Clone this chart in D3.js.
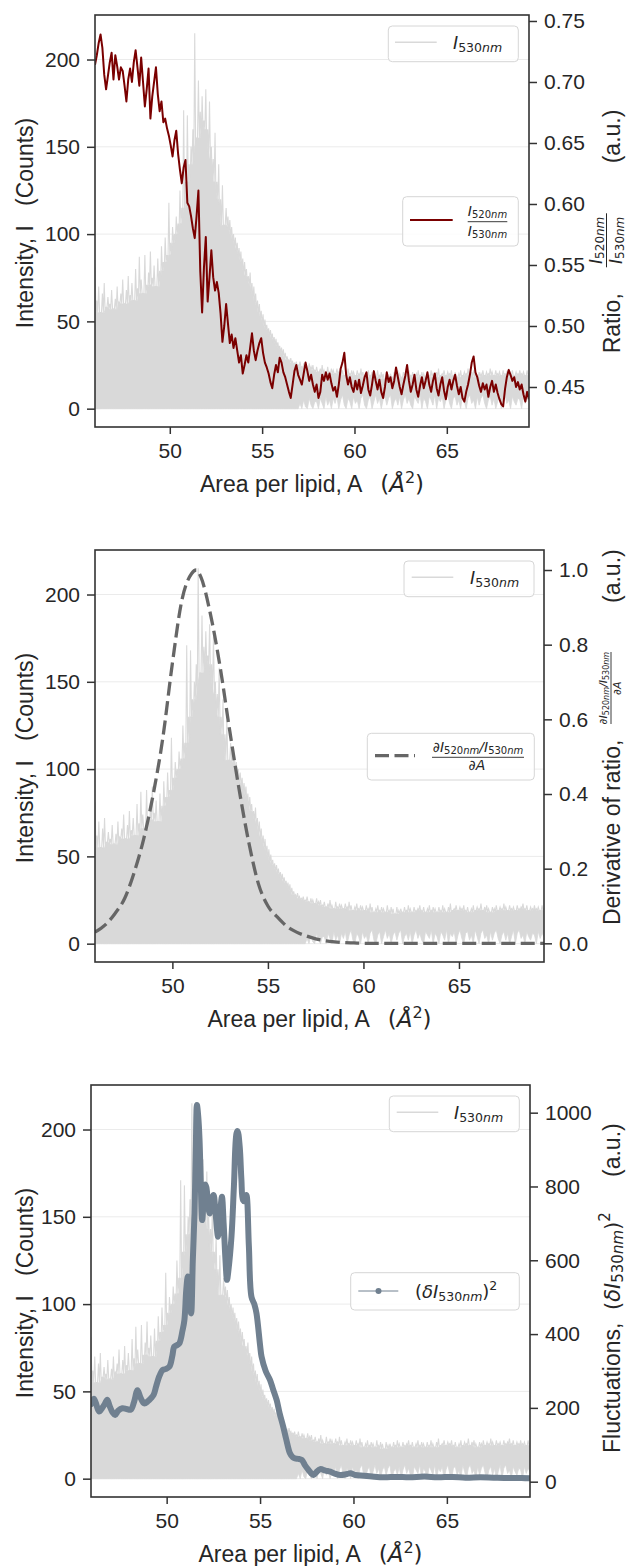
<!DOCTYPE html>
<html><head><meta charset="utf-8">
<script src="https://cdn.jsdelivr.net/npm/d3@7"></script>
<style>body{margin:0;background:#fff}svg{display:block}</style>
</head><body>
<script>
// ---------- DATA ----------
const areaStart = 45.95, areaStep = 0.1;   // area per lipid grid (Å^2)
// I530nm upper excursions (counts), one per grid step
const intensityPeak = [
81,62,70,55,66,72,58,64,60,68,
57,63,70,61,66,74,60,68,76,65,
72,62,80,69,87,74,66,88,71,78,
90,75,82,70,86,79,93,84,98,88,
118,95,104,100,110,106,125,115,171,130,
168,140,150,160,215,155,188,170,179,165,
183,160,176,150,143,158,130,140,120,128,
105,115,110,108,104,100,98,95,92,90,
86,84,80,76,78,72,70,66,62,60,
56,54,51,48,46,45,43,41,40,38,
36,35,34,32,30,28,29,27,26,27,
25,27,24,26,25,23,26,24,25,22,
24,21,23,25,22,20,24,21,23,22,
20,23,21,24,22,19,21,23,20,22,
21,19,22,20,23,21,18,20,22,19,
21,20,18,22,19,21,20,17,21,19,
20,18,21,19,22,20,18,21,19,20,
22,19,21,18,20,22,19,21,20,18,
21,19,22,20,18,21,23,19,20,22,
19,21,20,22,19,21,18,20,22,19,
21,20,23,19,21,22,20,18,21,20,
22,19,21,20,23,21,19,22,20,21,
19,22,20,21,23,20,22,19,21,20,
22,20,21,19,22,20];
// I530nm lower excursions (counts)
const intensityFloor = [
0,0,0,0,0,0,0,0,0,0,
0,0,0,0,0,0,0,0,0,0,
0,0,0,0,0,0,0,0,0,0,
0,0,0,0,0,0,0,0,0,0,
0,0,0,0,0,0,0,0,0,0,
0,0,0,0,0,0,0,0,0,0,
0,0,0,0,0,0,0,0,0,0,
0,0,0,0,0,0,0,0,0,0,
0,0,0,0,0,0,0,0,0,0,
0,0,0,0,0,0,0,0,0,0,
0,0,0,0,0,0,0,0,0,0,
0,3,0,5,1,0,6,2,0,4,
4,0,6,3,0,7,2,5,0,6,
3,7,0,5,8,2,0,6,4,0,
7,3,5,0,6,8,2,0,5,7,
0,4,8,3,6,0,5,7,2,6,
8,0,4,6,2,7,0,5,8,3,
6,2,0,7,5,3,8,0,6,4,
0,7,5,2,8,0,6,4,7,0,
5,8,3,0,6,7,2,5,0,8,
4,0,6,8,3,5,0,7,2,6,
8,3,0,5,7,2,6,0,4,8,
0,6,8,3,5,0,7,4,2,6,
5,0,7,3,6,4];
// ratio I520nm / I530nm
const ratio = [
0.714,0.722,0.732,0.739,0.728,0.706,0.694,0.705,0.716,0.724,
0.702,0.722,0.713,0.702,0.712,0.709,0.697,0.684,0.702,0.711,
0.700,0.716,0.726,0.712,0.697,0.720,0.700,0.680,0.694,0.711,
0.670,0.688,0.700,0.712,0.690,0.676,0.684,0.667,0.670,0.662,
0.656,0.648,0.639,0.652,0.660,0.641,0.628,0.617,0.630,0.636,
0.601,0.598,0.590,0.580,0.572,0.590,0.611,0.545,0.511,0.548,
0.573,0.520,0.540,0.562,0.540,0.529,0.536,0.527,0.510,0.487,
0.500,0.518,0.502,0.486,0.493,0.482,0.490,0.480,0.470,0.476,
0.461,0.468,0.476,0.470,0.482,0.494,0.480,0.472,0.480,0.486,
0.490,0.478,0.470,0.466,0.461,0.454,0.449,0.460,0.468,0.462,
0.474,0.470,0.462,0.458,0.452,0.446,0.441,0.452,0.463,0.468,
0.460,0.456,0.452,0.461,0.470,0.463,0.455,0.460,0.452,0.446,
0.452,0.441,0.446,0.460,0.455,0.462,0.456,0.461,0.453,0.447,
0.450,0.442,0.452,0.465,0.470,0.478,0.460,0.452,0.458,0.450,
0.446,0.455,0.448,0.456,0.445,0.451,0.458,0.462,0.448,0.443,
0.452,0.463,0.455,0.448,0.456,0.446,0.441,0.450,0.462,0.454,
0.458,0.449,0.455,0.466,0.458,0.450,0.444,0.452,0.459,0.468,
0.455,0.446,0.452,0.460,0.448,0.442,0.451,0.458,0.449,0.455,
0.462,0.452,0.446,0.455,0.461,0.449,0.443,0.452,0.458,0.447,
0.440,0.450,0.456,0.448,0.455,0.460,0.451,0.444,0.450,0.441,
0.438,0.446,0.452,0.460,0.470,0.475,0.462,0.458,0.451,0.446,
0.453,0.448,0.452,0.442,0.450,0.455,0.446,0.452,0.445,0.440,
0.436,0.434,0.448,0.458,0.464,0.460,0.455,0.458,0.450,0.454,
0.448,0.452,0.444,0.438,0.446,0.440];
// derivative of ratio (normalised)
const derivArea  = [45.95,46.5,47.0,47.5,48.0,48.5,49.0,49.5,50.0,50.5,51.0,51.25,51.5,52.0,52.5,53.0,53.5,54.0,54.5,55.0,55.5,56.0,56.5,57.0,57.5,58.0,58.5,59.0,59.5,60.0,62.0,65.0,69.45];
const derivValue = [0.03,0.05,0.08,0.12,0.19,0.28,0.40,0.55,0.75,0.92,0.99,1.0,0.98,0.88,0.74,0.57,0.41,0.27,0.16,0.10,0.07,0.045,0.03,0.02,0.012,0.007,0.004,0.002,0.001,0,0,0,0];
// fluctuations (δI530nm)^2
const flucArea = [45.95,46.1,46.2,46.38,46.55,46.7,46.82,46.95,47.1,47.24,47.4,47.63,47.85,48.08,48.25,48.44,48.6,48.8,49.0,49.16,49.3,49.43,49.6,49.79,49.95,50.15,50.3,50.41,50.55,50.68,50.85,50.95,51.05,51.13,51.2,51.31,51.4,51.49,51.56,51.62,51.69,51.76,51.83,51.9,51.98,52.05,52.12,52.2,52.3,52.4,52.51,52.6,52.7,52.75,52.85,52.96,53.05,53.15,53.23,53.3,53.47,53.6,53.74,53.8,53.91,54.0,54.09,54.18,54.27,54.4,54.54,54.7,54.81,55.0,55.08,55.3,55.53,55.7,55.89,56.05,56.24,56.4,56.6,56.75,56.87,57.05,57.23,57.4,57.59,57.75,57.86,58.0,58.22,58.5,58.76,59.0,59.3,59.6,59.84,60.1,60.56,61.0,61.63,62.3,63.0,63.8,64.5,65.3,66.0,66.8,67.5,68.3,69.0,69.45];
const flucValue = [210,225,215,190,200,212,222,205,188,181,192,199,197,195,215,248,228,212,218,226,235,257,285,303,305,312,340,366,370,375,410,438,520,556,520,456,600,727,900,1021,990,926,800,709,760,805,799,760,727,760,777,740,680,664,720,772,700,600,547,570,664,800,944,950,908,820,763,760,777,640,501,480,456,370,339,300,276,250,221,185,149,115,77,66,63,62,59,45,32,22,18,25,34,30,27,22,18,20,23,18,16,14,12,13,12,14,12,13,11,12,11,10,10,9];

const xTicks = [50,55,60,65];
const intensityTicks = [0,50,100,150,200];
const ratioTicks = [0.45,0.50,0.55,0.60,0.65,0.70,0.75];
const derivTicks = [0.0,0.2,0.4,0.6,0.8,1.0];
const flucTicks = [0,200,400,600,800,1000];

// ---------- DRAWING ----------
const SANS = "'Liberation Sans', Arial, sans-serif";
const MATH = "'DejaVu Sans', sans-serif";
const INK = "#262626", SPINE = "#333333", GRID = "#ebebeb", GRAYLINE = "#d9d9d9";

const svg = d3.select("body").append("svg").attr("width",635).attr("height",1566);
svg.append("rect").attr("width",635).attr("height",1566).attr("fill","#fff");

// dense trace: solid body up to the local minimum of the excursions, thin spikes above
const intensityPts = intensityPeak.map((v,i)=>({
  a: areaStart + i*areaStep, hi: v, lo: intensityFloor[i],
  core: d3.min(intensityPeak.slice(Math.max(0,i-2), i+3))
}));
const spikePts = [];
intensityPts.forEach((d,i)=>{
  spikePts.push([d.a, d.hi]);
  const nxt = intensityPts[i+1];
  spikePts.push([d.a + areaStep/2, nxt ? Math.min(d.core, nxt.core) : d.core]);
});
const ratioPts = ratio.map((v,i)=>[areaStart + i*areaStep, v]);
const derivPts = derivArea.map((a,i)=>[a, derivValue[i]]);
const flucPts = flucArea.map((a,i)=>[a, flucValue[i]]);

const panels = [
  {box:{l:95,r:529,t:15,b:427}, rDomain:[0.4172,0.7549], rTicks:ratioTicks, rFmt:d3.format(".2f")},
  {box:{l:95,r:544,t:550,b:962}, rDomain:[-0.050,1.0536], rTicks:derivTicks, rFmt:d3.format(".1f")},
  {box:{l:91,r:530,t:1085,b:1497}, rDomain:[-41.5,1075], rTicks:flucTicks, rFmt:d3.format("d")}
];

function styleAxis(g){
  g.select(".domain").remove();
  g.selectAll(".tick line").attr("stroke",SPINE).attr("stroke-width",1.5);
  g.selectAll(".tick text").attr("fill",INK).style("font-family",SANS).style("font-size","21px");
}

panels.forEach((p,pi)=>{
  const B = p.box;
  const x = d3.scaleLinear().domain([45.95,69.45]).range([B.l,B.r]);
  const yL = d3.scaleLinear().domain([-10.5,225.5]).range([B.b,B.t]);
  const yR = d3.scaleLinear().domain(p.rDomain).range([B.b,B.t]);
  const g = svg.append("g");
  const cid = "clip"+pi;
  svg.append("defs").append("clipPath").attr("id",cid).append("rect")
    .attr("x",B.l).attr("y",B.t).attr("width",B.r-B.l).attr("height",B.b-B.t);

  // grid
  g.selectAll(".grid").data(intensityTicks).enter().append("line")
    .attr("x1",B.l).attr("x2",B.r).attr("y1",d=>yL(d)).attr("y2",d=>yL(d))
    .attr("stroke",GRID).attr("stroke-width",1);

  // intensity trace
  g.append("path").datum(intensityPts).attr("clip-path",`url(#${cid})`)
    .attr("d", d3.area().x(d=>x(d.a)).y0(d=>yL(d.lo)).y1(d=>yL(d.core)))
    .attr("fill",GRAYLINE).attr("stroke",GRAYLINE).attr("stroke-width",0.8);
  g.append("path").datum(spikePts).attr("clip-path",`url(#${cid})`)
    .attr("d", d3.line().x(d=>x(d[0])).y(d=>yL(d[1])))
    .attr("fill","none").attr("stroke",GRAYLINE).attr("stroke-width",1.1);

  // secondary series
  if(pi===0){
    g.append("path").datum(ratioPts).attr("clip-path",`url(#${cid})`)
      .attr("d", d3.line().x(d=>x(d[0])).y(d=>yR(d[1])))
      .attr("fill","none").attr("stroke","#7a0000").attr("stroke-width",2).attr("stroke-linejoin","round");
  } else if(pi===1){
    g.append("path").datum(derivPts).attr("clip-path",`url(#${cid})`)
      .attr("d", d3.line().curve(d3.curveMonotoneX).x(d=>x(d[0])).y(d=>yR(d[1])))
      .attr("fill","none").attr("stroke","#666666").attr("stroke-width",3.3).attr("stroke-dasharray","14,5.5");
  } else {
    g.append("path").datum(flucPts).attr("clip-path",`url(#${cid})`)
      .attr("d", d3.line().curve(d3.curveCatmullRom.alpha(0.5)).x(d=>x(d[0])).y(d=>yR(d[1])))
      .attr("fill","none").attr("stroke","#708090").attr("stroke-width",6)
      .attr("stroke-linejoin","round").attr("stroke-linecap","round");
  }

  // spines
  g.append("rect").attr("x",B.l).attr("y",B.t).attr("width",B.r-B.l).attr("height",B.b-B.t)
    .attr("fill","none").attr("stroke",SPINE).attr("stroke-width",1.6);

  // axes
  g.append("g").attr("transform",`translate(0,${B.b})`)
    .call(d3.axisBottom(x).tickValues(xTicks).tickSize(7).tickPadding(9).tickSizeOuter(0)).call(styleAxis);
  g.append("g").attr("transform",`translate(${B.l},0)`)
    .call(d3.axisLeft(yL).tickValues(intensityTicks).tickSize(8).tickPadding(7).tickSizeOuter(0)).call(styleAxis);
  g.append("g").attr("transform",`translate(${B.r},0)`)
    .call(d3.axisRight(yR).tickValues(p.rTicks).tickFormat(p.rFmt).tickSize(8).tickPadding(7).tickSizeOuter(0)).call(styleAxis);

  // x label
  const cx = (B.l+B.r)/2;
  const xl = g.append("text").attr("x",cx).attr("y",B.b+65).attr("text-anchor","middle")
    .attr("fill",INK).style("font-family",SANS).style("font-size","23px").style("white-space","pre");
  xl.append("tspan").text("Area per lipid, A   ");
  xl.append("tspan").style("font-family",MATH).text("(");
  xl.append("tspan").style("font-family",MATH).style("font-style","italic").text("Å");
  xl.append("tspan").style("font-family",MATH).style("font-size","16px").attr("dy",-9).text("2");
  xl.append("tspan").style("font-family",MATH).attr("dy",9).text(")");

  // left label
  g.append("text").attr("transform",`translate(33,${(B.t+B.b)/2+2}) rotate(-90)`)
    .attr("text-anchor","middle").attr("fill",INK).style("font-family",SANS).style("font-size","23px")
    .style("white-space","pre").text("Intensity, I   (Counts)");

  // legend helpers
  function box(x0,y0,w,h){
    g.append("rect").attr("x",x0).attr("y",y0).attr("width",w).attr("height",h).attr("rx",4)
      .attr("fill","#fff").attr("fill-opacity",0.8).attr("stroke","#d6d6d6").attr("stroke-width",1);
  }
  function iSub(t, sub, size, subSize, dy){
    t.append("tspan").style("font-style","italic").style("font-size",size+"px").text("I");
    t.append("tspan").style("font-size",subSize+"px").attr("dy",dy).text(sub.slice(0,3));
    t.append("tspan").style("font-size",subSize+"px").style("font-style","italic").text("nm");
  }
  // legend: I530nm
  const L1 = [{x:388.3,y:26,lx:395,lx2:436.7,ly:42.3,tx:453,ty:49.3},
              {x:404,y:561,lx:411.7,lx2:453.3,ly:577.3,tx:470,ty:584.3},
              {x:389.3,y:1096,lx:396.7,lx2:438.3,ly:1112.3,tx:454,ty:1119.3}][pi];
  box(L1.x,L1.y,130,35.7);
  g.append("line").attr("x1",L1.lx).attr("x2",L1.lx2).attr("y1",L1.ly).attr("y2",L1.ly)
    .attr("stroke",GRAYLINE).attr("stroke-width",1.5);
  const t1 = g.append("text").attr("x",L1.tx).attr("y",L1.ty).attr("fill",INK).style("font-family",MATH);
  iSub(t1,"530nm",17.5,12.5,2.5);

  if(pi===0){
    box(402.7,196.7,115.6,49.3);
    g.append("line").attr("x1",410).attr("x2",452.7).attr("y1",220).attr("y2",220)
      .attr("stroke","#7a0000").attr("stroke-width",2);
    const n = g.append("text").attr("x",487.5).attr("y",216).attr("text-anchor","middle").attr("fill",INK).style("font-family",MATH);
    iSub(n,"520nm",14,10,2);
    g.append("line").attr("x1",467.7).attr("x2",507.3).attr("y1",221.7).attr("y2",221.7).attr("stroke",INK).attr("stroke-width",0.9);
    const d = g.append("text").attr("x",487.5).attr("y",236).attr("text-anchor","middle").attr("fill",INK).style("font-family",MATH);
    iSub(d,"530nm",14,10,2);
  } else if(pi===1){
    box(367.3,733.3,167,46.7);
    g.append("line").attr("x1",375).attr("x2",415).attr("y1",755.7).attr("y2",755.7)
      .attr("stroke","#666666").attr("stroke-width",3.3).attr("stroke-dasharray","14,5.5");
    const n = g.append("text").attr("x",478).attr("y",751.7).attr("text-anchor","middle").attr("fill",INK).style("font-family",MATH);
    n.append("tspan").style("font-size","14px").text("∂");
    iSub(n,"520nm",14,10,2);
    n.append("tspan").style("font-size","14px").style("font-style","italic").attr("dy",-2).text("/");
    iSub(n,"530nm",14,10,2);
    g.append("line").attr("x1",432).attr("x2",524).attr("y1",757.3).attr("y2",757.3).attr("stroke",INK).attr("stroke-width",0.9);
    const d = g.append("text").attr("x",477).attr("y",770).attr("text-anchor","middle").attr("fill",INK).style("font-family",MATH).style("font-size","14px");
    d.append("tspan").text("∂");
    d.append("tspan").style("font-style","italic").text("A");
  } else {
    box(350.7,1272.7,168.6,37.3);
    g.append("line").attr("x1",358.3).attr("x2",398.3).attr("y1",1291).attr("y2",1291)
      .attr("stroke","#708090").attr("stroke-width",1);
    g.append("circle").attr("cx",378.5).attr("cy",1291).attr("r",3).attr("fill","#708090");
    const t = g.append("text").attr("x",415).attr("y",1298).attr("fill",INK).style("font-family",MATH).style("font-size","18px");
    t.append("tspan").text("(");
    t.append("tspan").style("font-style","italic").text("δI");
    t.append("tspan").style("font-size","12.5px").attr("dy",2.5).text("530");
    t.append("tspan").style("font-size","12.5px").style("font-style","italic").text("nm");
    t.append("tspan").attr("dy",-2.5).text(")");
    t.append("tspan").style("font-size","12.5px").attr("dy",-8).text("2");
  }

  // right label
  if(pi===0){
    const r = g.append("g").attr("transform","translate(620,353.3) rotate(-90)");
    r.append("text").attr("fill",INK).style("font-family",SANS).style("font-size","23px").text("Ratio,");
    const n = r.append("text").attr("x",113).attr("y",-18).attr("text-anchor","middle").attr("fill",INK).style("font-family",MATH);
    iSub(n,"520nm",17,12,2);
    r.append("line").attr("x1",86).attr("x2",140).attr("y1",-13.5).attr("y2",-13.5).attr("stroke",INK).attr("stroke-width",1);
    const d = r.append("text").attr("x",113).attr("y",1.5).attr("text-anchor","middle").attr("fill",INK).style("font-family",MATH);
    iSub(d,"530nm",17,12,2);
    r.append("text").attr("x",190).attr("fill",INK).style("font-family",SANS).style("font-size","23px").text("(a.u.)");
  } else if(pi===1){
    const r = g.append("g").attr("transform","translate(620,925) rotate(-90)");
    r.append("text").attr("fill",INK).style("font-family",SANS).style("font-size","23px").text("Derivative of ratio,");
    const n = r.append("text").attr("x",237).attr("y",-13).attr("text-anchor","middle").attr("fill",INK).style("font-family",MATH);
    n.append("tspan").style("font-size","11px").text("∂");
    iSub(n,"520nm",11,8,1.5);
    n.append("tspan").style("font-size","11px").style("font-style","italic").attr("dy",-1.5).text("/");
    iSub(n,"530nm",11,8,1.5);
    r.append("line").attr("x1",201).attr("x2",273).attr("y1",-9).attr("y2",-9).attr("stroke",INK).attr("stroke-width",0.9);
    const d = r.append("text").attr("x",237).attr("y",1).attr("text-anchor","middle").attr("fill",INK).style("font-family",MATH).style("font-size","11px");
    d.append("tspan").text("∂");
    d.append("tspan").style("font-style","italic").text("A");
    r.append("text").attr("x",322).attr("fill",INK).style("font-family",SANS).style("font-size","23px").text("(a.u.)");
  } else {
    const r = g.append("g").attr("transform","translate(620,1453) rotate(-90)");
    r.append("text").attr("fill",INK).style("font-family",SANS).style("font-size","23px").text("Fluctuations,");
    const t = r.append("text").attr("x",143).attr("y",0).attr("fill",INK).style("font-family",MATH).style("font-size","21px");
    t.append("tspan").text("(");
    t.append("tspan").style("font-style","italic").text("δI");
    t.append("tspan").style("font-size","15px").attr("dy",3).text("530");
    t.append("tspan").style("font-size","15px").style("font-style","italic").text("nm");
    t.append("tspan").attr("dy",-3).text(")");
    t.append("tspan").style("font-size","15px").attr("dy",-10).text("2");
    r.append("text").attr("x",276).attr("fill",INK).style("font-family",SANS).style("font-size","23px").text("(a.u.)");
  }
});
</script>
</body></html>
